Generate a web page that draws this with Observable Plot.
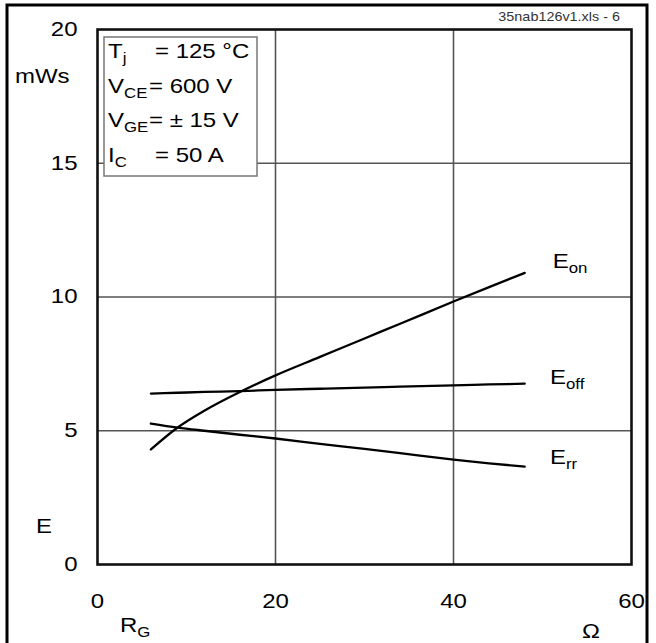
<!DOCTYPE html>
<html>
<head>
<meta charset="utf-8">
<script src="https://cdn.jsdelivr.net/npm/d3@7"></script>
<script src="https://cdn.jsdelivr.net/npm/@observablehq/plot@0.6"></script>
<style>
  body { margin: 0; background: #fff; }
  svg { display: block; }
</style>
</head>
<body>
<div id="chart"></div>
<script>
// Switching energies vs. gate resistor (Tj = 125 °C)
const rg   = [6, 9, 12, 16, 20, 25, 30, 34, 40, 44, 48];            // Ω
const eOn  = [4.30, 5.12, 5.75, 6.45, 7.07, 7.76, 8.45, 9.00, 9.83, 10.37, 10.90]; // mWs
const eOff = [6.39, 6.42, 6.45, 6.48, 6.53, 6.57, 6.61, 6.65, 6.70, 6.73, 6.76];
const eRr  = [5.27, 5.12, 5.00, 4.85, 4.71, 4.51, 4.32, 4.16, 3.92, 3.78, 3.66];

const xTicks = [0, 20, 40, 60];
const yTicks = [0, 5, 10, 15, 20];

const series = [
  {key: "on",  values: eOn},
  {key: "off", values: eOff},
  {key: "rr",  values: eRr}
];
const rows = series.flatMap(s => rg.map((r, i) => ({r, e: s.values[i], key: s.key})));

// curve labels: position (Ω, mWs) of the label baseline start
const curveLabels = [
  {key: "on",  r: 51.2, e: 11.07},
  {key: "off", r: 50.9, e: 6.72},
  {key: "rr",  r: 50.9, e: 3.74}
];

const conditions = [
  {sym: "T", sub: "j",  val: "= 125 °C", vx: 155},
  {sym: "V", sub: "CE", val: "= 600 V",  vx: 149},
  {sym: "V", sub: "GE", val: "= ± 15 V", vx: 149},
  {sym: "I", sub: "C",  val: "= 50 A",   vx: 155}
];

const font = "'Liberation Sans', Arial, Helvetica, sans-serif";
const WIDE = 1.2; // horizontal stretch of the lettering

const plot = Plot.plot({
  width: 656,
  height: 643,
  marginLeft: 97,
  marginRight: 25,
  marginTop: 29,
  marginBottom: 79,
  style: {fontFamily: font, fontSize: "20px", color: "#000", background: "#fff"},
  x: {domain: [0, 60]},
  y: {domain: [0, 20]},
  marks: [
    Plot.gridX([20, 40], {stroke: "#555", strokeOpacity: 1, strokeWidth: 1.6}),
    Plot.gridY([5, 10, 15], {stroke: "#555", strokeOpacity: 1, strokeWidth: 1.6}),
    Plot.line(rows, {x: "r", y: "e", z: "key", stroke: "#000", strokeWidth: 2.3, curve: "monotone-x"}),
    Plot.frame({stroke: "#111", strokeWidth: 2.6}),
    Plot.axisX({ticks: xTicks, tickSize: 0, tickPadding: 29, label: null, tickFormat: d => String(d)}),
    Plot.axisY({ticks: yTicks, tickSize: 0, tickPadding: 20, label: null, tickFormat: d => String(d)})
  ]
});

document.getElementById("chart").append(plot);

// widen the tick lettering about each label's own anchor
plot.querySelectorAll("g[aria-label$='tick label'] text").forEach(t => {
  const tr = t.getAttribute("transform") || "";
  const x = parseFloat(t.getAttribute("x")) || 0;
  t.setAttribute("transform", `${tr} translate(${x},0) scale(${WIDE},1) translate(${-x},0)`);
});

const svg = d3.select(plot);
const xs = plot.scale("x"), ys = plot.scale("y");

// text at (x, y) with optional subscript, stretched horizontally
function label(g, x, y, main, sub, size, subSize, anchor = "start", fill = "#000") {
  const t = g.append("text")
    .attr("transform", `translate(${x},${y}) scale(${WIDE},1)`)
    .attr("text-anchor", anchor)
    .attr("font-family", font).attr("font-size", size).attr("fill", fill);
  t.append("tspan").text(main);
  if (sub) {
    t.append("tspan").attr("dy", Math.round(subSize * 0.35)).attr("font-size", subSize).text(sub);
  }
  return t;
}

// outer border
svg.append("rect")
  .attr("x", 7).attr("y", 5).attr("width", 640).attr("height", 700)
  .attr("fill", "none").attr("stroke", "#000").attr("stroke-width", 3);

// file tag
label(svg, 620, 21, "35nab126v1.xls - 6", null, 12, 0, "end", "#333");

// axis titles
label(svg, 15, 83, "mWs", null, 20, 0);
label(svg, 36, 533, "E", null, 20, 0);
label(svg, 120, 632, "R", "G", 20, 14);
label(svg, 582, 638, "Ω", null, 20, 0);

// curve labels
const lg = svg.append("g");
for (const c of curveLabels) {
  label(lg, xs.apply(c.r), ys.apply(c.e), "E", c.key, 20, 14);
}

// operating-condition box
const box = svg.append("g");
box.append("rect")
  .attr("x", 104).attr("y", 37).attr("width", 153).attr("height", 139)
  .attr("fill", "#fff").attr("stroke", "#777").attr("stroke-width", 1.5);
conditions.forEach((c, i) => {
  const y = 58 + i * 34.5;
  label(box, 108, y, c.sym, c.sub, 20, 14);
  label(box, c.vx, y, c.val, null, 20, 0);
});
</script>
</body>
</html>
